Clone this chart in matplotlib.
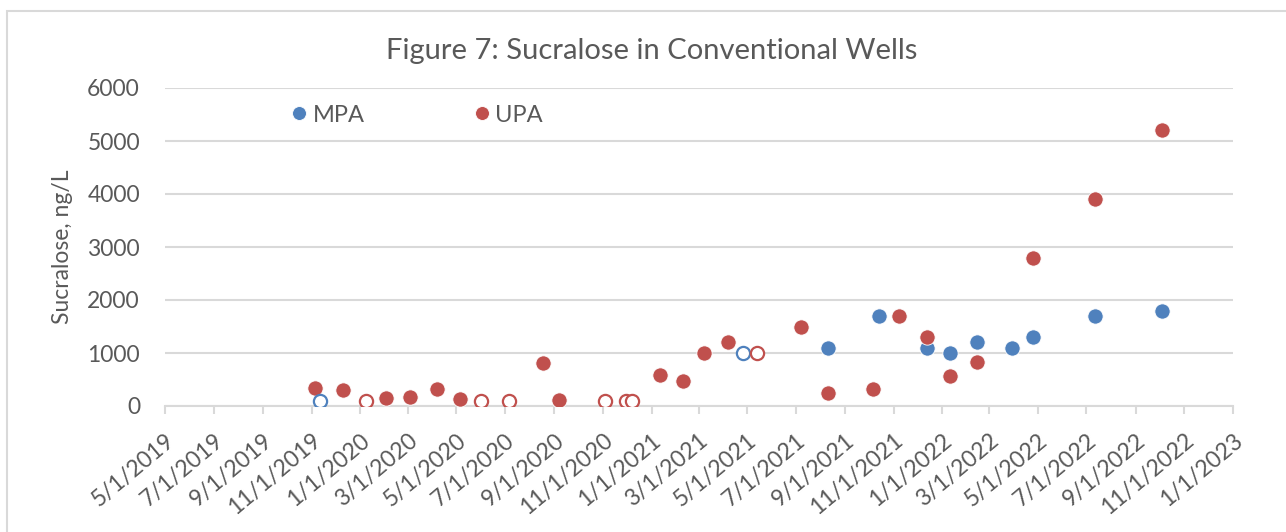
import matplotlib
matplotlib.use('Agg')
import matplotlib.pyplot as plt
import matplotlib.dates as mdates
from matplotlib.patches import Rectangle
import pandas as pd

plt.rcParams['font.family'] = ['Lato', 'DejaVu Sans']

# MPA (detected)
mpa_dates = ['2021-08-10', '2021-10-13', '2021-12-13', '2022-01-11', '2022-02-14',
             '2022-03-29', '2022-04-25', '2022-07-12', '2022-10-04']
mpa_vals = [1100, 1700, 1100, 1000, 1200, 1100, 1300, 1700, 1800]

# MPA (non-detect, open marker)
mpa_nd_dates = ['2019-11-12', '2021-04-26']
mpa_nd_vals = [100, 1000]

# UPA (detected)
upa_dates = ['2019-11-05', '2019-12-10', '2020-02-03', '2020-03-04', '2020-04-06',
             '2020-05-05', '2020-08-17', '2020-09-07', '2021-01-11', '2021-02-09',
             '2021-03-08', '2021-04-07', '2021-07-08', '2021-08-10', '2021-10-06',
             '2021-11-08', '2021-12-13', '2022-01-11', '2022-02-14', '2022-04-25',
             '2022-07-12', '2022-10-04']
upa_vals = [345, 300, 157, 164, 315, 138, 805, 112, 579, 472,
            994, 1202, 1500, 240, 320, 1700, 1300, 566, 830, 2800,
            3900, 5200]

# UPA (non-detect, open marker)
upa_nd_dates = ['2020-01-08', '2020-06-01', '2020-07-06', '2020-11-04', '2020-11-30',
                '2020-12-07', '2021-05-13']
upa_nd_vals = [100, 100, 100, 100, 100, 100, 1000]

blue = '#4f81bd'
red = '#c0504d'
grey_txt = '#595959'

fig = plt.figure(figsize=(12.86, 5.32), dpi=100)
ax = fig.add_axes([165 / 1286, 1 - 406 / 532, (1233 - 165) / 1286, (406 - 88) / 532])

# chart area border
fig.patches.append(Rectangle((7 / 1286, -0.1), 1.2, 1 - 11 / 532 + 0.1,
                             transform=fig.transFigure, fill=False,
                             edgecolor='#d9d9d9', linewidth=1.5))

ms = 11
ax.plot(pd.to_datetime(mpa_dates), mpa_vals, 'o', color=blue, markersize=ms,
        markeredgecolor='white', markeredgewidth=0.6, label='MPA', zorder=3)
ax.plot(pd.to_datetime(upa_dates), upa_vals, 'o', color=red, markersize=ms,
        markeredgecolor='white', markeredgewidth=0.6, label='UPA', zorder=3)
ax.plot(pd.to_datetime(mpa_nd_dates), mpa_nd_vals, 'o', markerfacecolor='white',
        markeredgecolor=blue, markeredgewidth=1.6, markersize=ms - 1.5, zorder=3)
ax.plot(pd.to_datetime(upa_nd_dates), upa_nd_vals, 'o', markerfacecolor='white',
        markeredgecolor=red, markeredgewidth=1.6, markersize=ms - 1.5, zorder=3)

ax.set_xlim(pd.Timestamp('2019-05-01'), pd.Timestamp('2023-01-01'))
ax.set_ylim(0, 6000)
ax.set_yticks(range(0, 6001, 1000))

ax.xaxis.set_major_locator(mdates.MonthLocator(bymonth=[1, 3, 5, 7, 9, 11]))
ax.xaxis.set_major_formatter(plt.FuncFormatter(
    lambda v, p: '{d.month}/{d.day}/{d.year}'.format(d=mdates.num2date(v))))

ax.grid(axis='y', color='#d9d9d9', linewidth=1.5)
ax.set_axisbelow(True)
for s in ['top', 'right', 'left']:
    ax.spines[s].set_visible(False)
ax.spines['bottom'].set_color('#d9d9d9')
ax.spines['bottom'].set_linewidth(1.5)

ax.tick_params(axis='y', length=0, labelsize=16.5, labelcolor=grey_txt, pad=18)
ax.tick_params(axis='x', length=6, width=1.5, color='#d9d9d9', labelsize=16.5,
               labelcolor=grey_txt, pad=11)
for lbl in ax.get_xticklabels():
    lbl.set_rotation(40)
    lbl.set_ha('right')
    lbl.set_rotation_mode('anchor')

ax.set_ylabel('Sucralose, ng/L', fontsize=16.5, color=grey_txt, labelpad=10)
fig.text(652 / 1286, 1 - 51 / 532, 'Figure 7: Sucralose in Conventional Wells',
         ha='center', va='center', fontsize=21, color=grey_txt)

leg = ax.legend(loc='center left', bbox_to_anchor=(0.106, 0.915), ncol=2,
                frameon=False, fontsize=17, handletextpad=0.05,
                columnspacing=4.5, handlelength=1.0, borderaxespad=0)
for h in leg.legend_handles:
    h.set_markersize(10)
for t in leg.get_texts():
    t.set_color(grey_txt)

fig.savefig('out.png', dpi=100)
